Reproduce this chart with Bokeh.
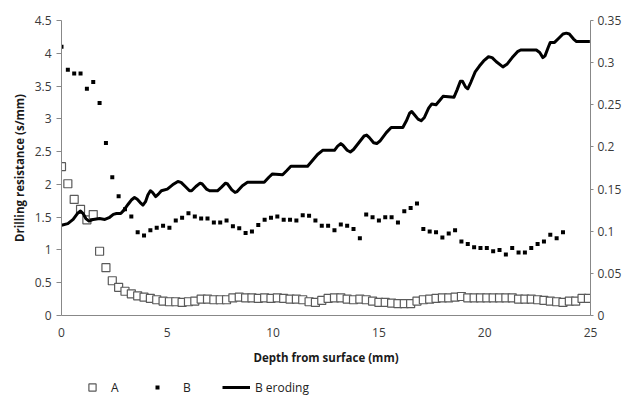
from bokeh.plotting import figure
from bokeh.layouts import column
from bokeh.models import (Range1d, LinearAxis, FixedTicker, CustomJSTickFormatter,
                          Legend, LegendItem)
from bokeh.embed import file_html
from bokeh.resources import INLINE

NAN = float("nan")

# ---------------- data ----------------
depth_a = [0.0, 0.3, 0.6, 0.9, 1.2, 1.5, 1.8, 2.1, 2.4, 2.7, 3.0, 3.3, 3.6, 3.9,
           4.2, 4.5, 4.8, 5.1, 5.4, 5.7, 6.0, 6.3, 6.6, 6.9, 7.2, 7.5, 7.8, 8.1,
           8.4, 8.7, 9.0, 9.3, 9.6, 9.9, 10.2, 10.5, 10.8, 11.1, 11.4, 11.7, 12.0,
           12.3, 12.6, 12.9, 13.2, 13.5, 13.8, 14.1, 14.4, 14.7, 15.0, 15.3, 15.6,
           15.9, 16.2, 16.5, 16.8, 17.1, 17.4, 17.7, 18.0, 18.3, 18.6, 18.9, 19.2,
           19.5, 19.8, 20.1, 20.4, 20.7, 21.0, 21.3, 21.6, 21.9, 22.2, 22.5, 22.8,
           23.1, 23.4, 23.7, 24.0, 24.3, 24.6, 24.9]

res_a = [2.27, 2.01, 1.77, 1.62, 1.46, 1.54, 0.98, 0.73, 0.53, 0.43, 0.37, 0.33,
         0.30, 0.28, 0.26, 0.24, 0.22, 0.21, 0.21, 0.20, 0.21, 0.22, 0.25, 0.25,
         0.24, 0.24, 0.24, 0.27, 0.28, 0.27, 0.27, 0.26, 0.27, 0.26, 0.27, 0.26,
         0.25, 0.25, 0.24, 0.21, 0.20, 0.23, 0.26, 0.27, 0.27, 0.25, 0.24, 0.25,
         0.24, 0.22, 0.20, 0.20, 0.19, 0.18, 0.18, 0.18, 0.22, 0.24, 0.25, 0.26,
         0.27, 0.27, 0.28, 0.29, 0.27, 0.27, 0.27, 0.27, 0.27, 0.27, 0.27, 0.27,
         0.25, 0.25, 0.25, 0.24, 0.23, 0.22, 0.21, 0.20, 0.22, 0.22, 0.26, 0.26]

depth_b = depth_a[:80]

res_b = [4.10, 3.75, 3.69, 3.69, 3.46, 3.56, 3.24, 2.63, 2.11, 1.82, 1.62, 1.51,
         1.27, 1.22, 1.30, 1.34, 1.37, 1.34, 1.45, 1.49, 1.56, 1.51, 1.48, 1.48,
         1.42, 1.42, 1.45, 1.36, 1.33, 1.26, 1.28, 1.38, 1.46, 1.49, 1.51, 1.46,
         1.46, 1.45, 1.53, 1.52, 1.45, 1.37, 1.37, 1.30, 1.39, 1.37, 1.32, 1.18,
         1.54, 1.50, 1.45, 1.50, 1.50, 1.42, 1.59, 1.64, 1.71, 1.32, 1.28, 1.27,
         1.19, 1.25, 1.30, 1.13, 1.09, 1.04, 1.03, 1.03, 0.98, 1.00, 0.93, 1.03,
         0.96, 0.96, 1.03, 1.09, 1.13, 1.23, 1.18, 1.27]

erode_depth = [0.0, 0.3, 0.55, 0.75, 0.9, 1.02, 1.15, 1.3, 1.5, 1.8, 2.05, 2.25,
               2.45, 2.6, 2.8, 2.95, 3.15, 3.3, 3.45, 3.58, 3.72, 3.85, 3.97, 4.08,
               4.2, 4.3, 4.45, 4.58, 4.72, 5.0, 5.25, 5.5, 5.65, 5.85, 6.05, 6.15,
               6.35, 6.55, 6.65, 6.85, 7.0, 7.37, 7.55, 7.75, 7.85, 8.05, 8.2, 8.3,
               8.55, 8.79, 9.58, 9.8, 9.97, 10.45, 10.65, 10.84, 11.63, 11.9, 12.1,
               12.34, 12.9, 13.05, 13.2, 13.3, 13.5, 13.65, 13.8, 14.05, 14.3,
               14.42, 14.55, 14.75, 14.9, 15.05, 15.35, 15.58, 16.13, 16.3, 16.45,
               16.55, 16.65, 16.85, 17.0, 17.15, 17.35, 17.5, 17.7, 17.9, 18.03,
               18.55, 18.7, 18.85, 18.95, 19.1, 19.2, 19.35, 19.55, 19.75, 19.95,
               20.18, 20.35, 20.55, 20.86, 21.05, 21.3, 21.55, 21.7, 22.44, 22.6,
               22.75, 22.85, 23.0, 23.1, 23.3, 23.5, 23.7, 23.86, 24.0, 24.2,
               24.34, 24.97]

erode_val = [0.107, 0.109, 0.114, 0.121, 0.124, 0.121, 0.115, 0.112, 0.114, 0.115,
             0.114, 0.116, 0.120, 0.121, 0.121, 0.125, 0.132, 0.137, 0.140, 0.138,
             0.134, 0.131, 0.135, 0.143, 0.148, 0.146, 0.141, 0.144, 0.148, 0.150,
             0.155, 0.159, 0.158, 0.153, 0.148, 0.148, 0.153, 0.157, 0.156, 0.150,
             0.148, 0.148, 0.152, 0.157, 0.156, 0.149, 0.146, 0.147, 0.154, 0.158,
             0.158, 0.164, 0.168, 0.167, 0.172, 0.177, 0.177, 0.185, 0.191, 0.196,
             0.196, 0.201, 0.204, 0.202, 0.196, 0.194, 0.197, 0.205, 0.213, 0.214,
             0.211, 0.205, 0.204, 0.207, 0.217, 0.223, 0.223, 0.231, 0.240, 0.242,
             0.239, 0.233, 0.231, 0.235, 0.246, 0.251, 0.250, 0.256, 0.260, 0.259,
             0.268, 0.278, 0.278, 0.271, 0.269, 0.277, 0.289, 0.296, 0.302, 0.307,
             0.306, 0.301, 0.295, 0.298, 0.306, 0.313, 0.315, 0.315, 0.312, 0.306,
             0.308, 0.318, 0.324, 0.324, 0.329, 0.334, 0.335, 0.334, 0.328, 0.325,
             0.325]

x_ticks = [0, 5, 10, 15, 20, 25]
left_ticks = [0, 0.5, 1, 1.5, 2, 2.5, 3, 3.5, 4, 4.5]
right_ticks = [0, 0.05, 0.1, 0.15, 0.2, 0.25, 0.3, 0.35]
series_labels = ["A", "B", "B eroding"]

# ---------------- styles ----------------
FONT = "Open Sans"
AXIS_COL = "#888888"
TICK_TXT = "#3a3a3a"
A_STYLE = dict(marker="square", fill_color="white", line_color="#5a5a5a", line_width=1.2)
E_STYLE = dict(line_width=3, line_color="black", line_join="round")

# ---------------- main figure ----------------
p = figure(frame_width=529, frame_height=295,
           x_range=Range1d(0, 25), y_range=Range1d(0, 4.5),
           output_backend="svg", toolbar_location=None,
           min_border_left=61, min_border_right=39,
           min_border_top=20, min_border_bottom=52,
           background_fill_color="white", border_fill_color="white")
p.extra_y_ranges = {"erode": Range1d(0, 0.35)}
p.xgrid.visible = False
p.ygrid.visible = False
p.outline_line_color = None

fmt = CustomJSTickFormatter(code="return String(Math.round(tick*1000)/1000);")

def style_axis(ax):
    ax.axis_line_color = AXIS_COL
    ax.major_tick_line_color = AXIS_COL
    ax.minor_tick_line_color = None
    ax.major_tick_in = 0
    ax.major_label_text_font = FONT
    ax.major_label_text_font_size = "12px"
    ax.major_label_text_color = TICK_TXT
    ax.axis_label_text_font = FONT
    ax.axis_label_text_font_size = "11.5px"
    ax.axis_label_text_font_style = "bold"
    ax.axis_label_text_color = "#1a1a1a"

xa = p.xaxis[0]
style_axis(xa)
xa.ticker = FixedTicker(ticks=x_ticks)
xa.formatter = fmt
xa.major_tick_out = 0
xa.major_label_standoff = 12
xa.axis_label = "Depth from surface (mm)"
xa.axis_label_standoff = 10

ya = p.yaxis[0]
style_axis(ya)
ya.ticker = FixedTicker(ticks=left_ticks)
ya.formatter = fmt
ya.major_tick_out = 5
ya.major_label_standoff = 5
ya.axis_label = "Drilling resistance (s/mm)"
ya.axis_label_standoff = 5

ra_axis = LinearAxis(y_range_name="erode")
style_axis(ra_axis)
ra_axis.ticker = FixedTicker(ticks=right_ticks)
ra_axis.formatter = fmt
ra_axis.major_tick_out = 3
ra_axis.major_label_standoff = 4
p.add_layout(ra_axis, "right")

p.scatter(depth_a, res_a, size=8, **A_STYLE)
p.scatter(depth_b, res_b, marker="square", size=4, fill_color="black", line_color=None)
p.line(erode_depth, erode_val, y_range_name="erode", **E_STYLE)

# ---------------- legend strip (below the chart) ----------------
lf = figure(width=629, height=29, x_range=Range1d(0, 1), y_range=Range1d(0, 1),
            output_backend="svg", toolbar_location=None,
            x_axis_location=None, y_axis_location=None,
            min_border=0, min_border_left=0, min_border_right=0,
            min_border_top=0, min_border_bottom=0,
            background_fill_color="white", border_fill_color="white")
lf.outline_line_color = None
lf.xgrid.visible = False
lf.ygrid.visible = False

# legend swatches only (no visible data: NaN coordinates)
la = lf.scatter(x=[NAN], y=[NAN], size=8, **A_STYLE)
lb = lf.line(x=[NAN], y=[NAN], line_width=4, line_color="black", line_dash="0 5 4 100")
le = lf.line(x=[NAN], y=[NAN], **E_STYLE)

leg = Legend(items=[LegendItem(label=series_labels[0], renderers=[la]),
                    LegendItem(label=series_labels[1], renderers=[lb]),
                    LegendItem(label=series_labels[2], renderers=[le])],
             orientation="horizontal", location=(17, 0),
             glyph_width=28, glyph_height=18, label_standoff=5, label_width=20,
             spacing=19, padding=0, margin=0, border_line_color=None,
             background_fill_alpha=0, label_text_font=FONT,
             label_text_font_size="12px", label_text_color="#222222")
lf.add_layout(leg)

layout = column(p, lf, spacing=0)
open("out.html", "w").write(file_html(layout, INLINE))
